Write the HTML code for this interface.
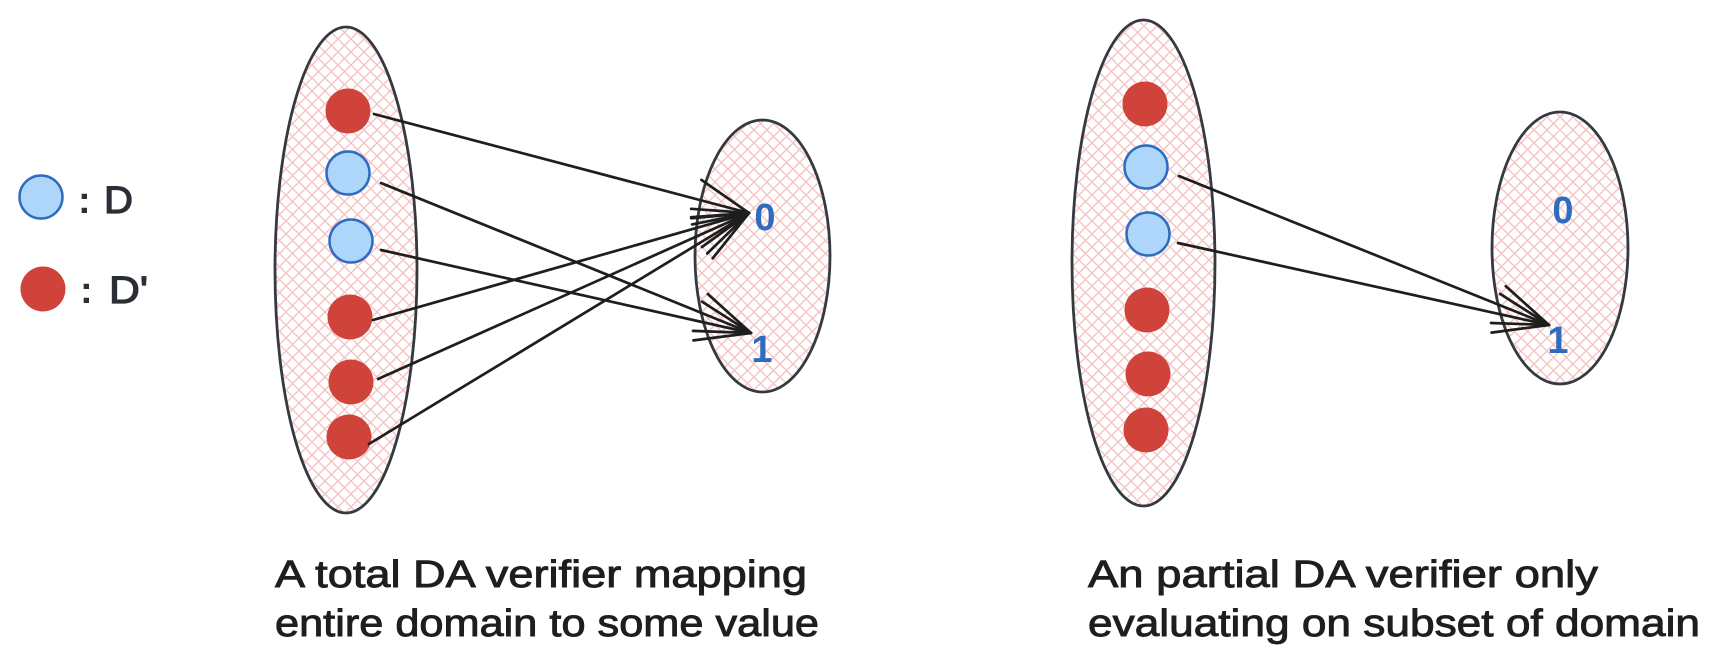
<!DOCTYPE html>
<html>
<head>
<meta charset="utf-8">
<style>
html,body{margin:0;padding:0;background:#ffffff;}
svg{display:block;}
text{font-family:"Liberation Sans",sans-serif;}
</style>
</head>
<body>
<svg width="1726" height="656" viewBox="0 0 1726 656" xmlns="http://www.w3.org/2000/svg">
  <defs>
    <pattern id="hatch" patternUnits="userSpaceOnUse" width="13" height="13">
      <path d="M0,0 L13,13 M13,0 L0,13" stroke="#f6c3c3" stroke-width="1.4" fill="none"/>
    </pattern>
  </defs>
  <rect width="1726" height="656" fill="#ffffff"/>

  <!-- Legend -->
  <circle cx="41" cy="197" r="21.5" fill="#aed6fb" stroke="#2f6cc0" stroke-width="2.5"/>
  <text x="78" y="213" font-size="38" fill="#2a2f35" font-weight="bold">:</text>
  <text x="104" y="213" font-size="38" fill="#2a2f35" stroke="#2a2f35" stroke-width="1.2" textLength="29" lengthAdjust="spacingAndGlyphs">D</text>
  <circle cx="43" cy="289" r="22.5" fill="#cf433a"/>
  <text x="80" y="303" font-size="38" fill="#2a2f35" font-weight="bold">:</text>
  <text x="109" y="303" font-size="38" fill="#2a2f35" stroke="#2a2f35" stroke-width="1.2" textLength="39" lengthAdjust="spacingAndGlyphs">D'</text>

  <!-- LEFT DIAGRAM -->
  <ellipse cx="346" cy="270" rx="71" ry="243" fill="url(#hatch)" stroke="#343a40" stroke-width="2.8"/>
  <ellipse cx="762.5" cy="256" rx="67.5" ry="136" fill="url(#hatch)" stroke="#343a40" stroke-width="2.8"/>

  <circle cx="348" cy="111" r="22.5" fill="#cf433a"/>
  <circle cx="348" cy="173" r="21.5" fill="#aed6fb" stroke="#2f6cc0" stroke-width="2.5"/>
  <circle cx="351" cy="241" r="21.5" fill="#aed6fb" stroke="#2f6cc0" stroke-width="2.5"/>
  <circle cx="350" cy="317" r="22.5" fill="#cf433a"/>
  <circle cx="351" cy="382" r="22.5" fill="#cf433a"/>
  <circle cx="349" cy="437" r="22.5" fill="#cf433a"/>

  <text x="765" y="230" font-size="38" fill="#2f6cc0" text-anchor="middle" font-weight="bold">0</text>
  <text x="762" y="362" font-size="38" fill="#2f6cc0" text-anchor="middle" font-weight="bold">1</text>

  <g stroke="#1e1e1e" stroke-width="2.7" fill="none" stroke-linecap="round">
    <line x1="374" y1="114" x2="749" y2="213"/>
    <line x1="701.4" y1="179.9" x2="749" y2="213"/>
    <line x1="691.2" y1="218.3" x2="749" y2="213"/>
    <line x1="373" y1="320" x2="749" y2="213"/>
    <line x1="691.1" y1="208.8" x2="749" y2="213"/>
    <line x1="702" y1="247" x2="749" y2="213"/>
    <line x1="378" y1="379" x2="749" y2="213"/>
    <line x1="691.1" y1="217.2" x2="749" y2="213"/>
    <line x1="707.3" y1="253.4" x2="749" y2="213"/>
    <line x1="369" y1="444" x2="749" y2="213"/>
    <line x1="692.1" y1="224.4" x2="749" y2="213"/>
    <line x1="712.7" y1="258.3" x2="749" y2="213"/>
    <line x1="381" y1="183" x2="751" y2="333"/>
    <line x1="707.9" y1="294.1" x2="751" y2="333"/>
    <line x1="693" y1="330.9" x2="751" y2="333"/>
    <line x1="381" y1="250" x2="751" y2="333"/>
    <line x1="702.2" y1="301.7" x2="751" y2="333"/>
    <line x1="693.5" y1="340.4" x2="751" y2="333"/>
  </g>

  <!-- RIGHT DIAGRAM -->
  <ellipse cx="1143.5" cy="263" rx="71.5" ry="243" fill="url(#hatch)" stroke="#343a40" stroke-width="2.8"/>
  <ellipse cx="1560" cy="248" rx="68" ry="136" fill="url(#hatch)" stroke="#343a40" stroke-width="2.8"/>

  <circle cx="1145" cy="104" r="22.5" fill="#cf433a"/>
  <circle cx="1146" cy="167" r="21.5" fill="#aed6fb" stroke="#2f6cc0" stroke-width="2.5"/>
  <circle cx="1148" cy="234" r="21.5" fill="#aed6fb" stroke="#2f6cc0" stroke-width="2.5"/>
  <circle cx="1147" cy="310" r="22.5" fill="#cf433a"/>
  <circle cx="1148" cy="374" r="22.5" fill="#cf433a"/>
  <circle cx="1146" cy="430" r="22.5" fill="#cf433a"/>

  <text x="1563" y="223" font-size="38" fill="#2f6cc0" text-anchor="middle" font-weight="bold">0</text>
  <text x="1558" y="353" font-size="38" fill="#2f6cc0" text-anchor="middle" font-weight="bold">1</text>

  <g stroke="#1e1e1e" stroke-width="2.7" fill="none" stroke-linecap="round">
    <line x1="1179" y1="176" x2="1549" y2="325"/>
    <line x1="1505.8" y1="286.2" x2="1549" y2="325"/>
    <line x1="1491" y1="323" x2="1549" y2="325"/>
    <line x1="1178" y1="243" x2="1549" y2="325"/>
    <line x1="1500.1" y1="293.9" x2="1549" y2="325"/>
    <line x1="1491.5" y1="332.6" x2="1549" y2="325"/>
  </g>

  <!-- Captions -->
  <g font-size="38" fill="#1e1e1e" stroke="#1e1e1e" stroke-width="0.9">
    <text x="275" y="587" textLength="532" lengthAdjust="spacingAndGlyphs">A total DA verifier mapping</text>
    <text x="275" y="636" textLength="544" lengthAdjust="spacingAndGlyphs">entire domain to some value</text>
    <text x="1088" y="587" textLength="510" lengthAdjust="spacingAndGlyphs">An partial DA verifier only</text>
    <text x="1088" y="636" textLength="612" lengthAdjust="spacingAndGlyphs">evaluating on subset of domain</text>
  </g>
</svg>
</body>
</html>
